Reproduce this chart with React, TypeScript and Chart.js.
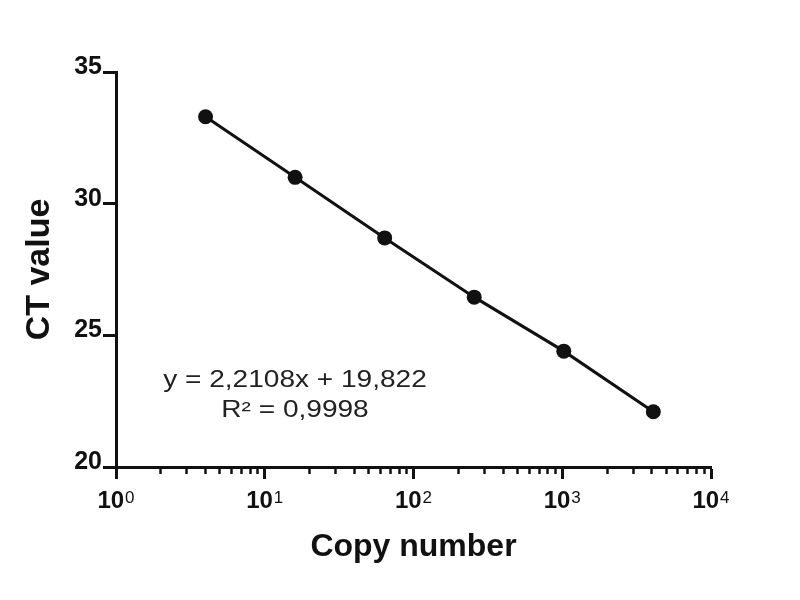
import React, { useEffect, useRef } from 'react';
import { Chart, registerables } from 'chart.js';

Chart.register(...registerables);

// ---- data ----
const copyNumbers = [4, 16, 64, 256, 1024, 4096];
const ctValues = [33.3, 31.0, 28.7, 26.45, 24.4, 22.1];

// ---- axes / labels ----
const yTicks = [20, 25, 30, 35];
const xMajorTicks = [1, 10, 100, 1000, 10000];
const xTickBase = '10';
const xTickExponents = ['0', '1', '2', '3', '4'];
const xMinorTicks = [
  2, 3, 4, 5, 6, 7, 8, 9,
  20, 30, 40, 50, 60, 70, 80, 90,
  200, 300, 400, 500, 600, 700, 800, 900,
  2000, 3000, 4000, 5000, 6000, 7000, 8000, 9000,
];
const xTitle = 'Copy number';
const yTitle = 'CT value';
const equationLines = ['y = 2,2108x + 19,822', 'R² = 0,9998'];

const FONT = "'Liberation Sans', Arial, Helvetica, sans-serif";
const INK = '#111111';

const xLabelPlugin = {
  id: 'xPowLabels',
  afterDraw(chart: any) {
    const scale = chart.scales.x;
    const ctx = chart.ctx;
    ctx.save();
    ctx.fillStyle = INK;
    ctx.textBaseline = 'alphabetic';
    ctx.textAlign = 'left';
    xMajorTicks.forEach((v, i) => {
      const px = scale.getPixelForValue(v);
      ctx.font = `bold 24px ${FONT}`;
      const wb = ctx.measureText(xTickBase).width;
      ctx.font = `17px ${FONT}`;
      const we = ctx.measureText(xTickExponents[i]).width;
      const gap = 1;
      const start = px - (wb + gap + we) / 2;
      ctx.font = `bold 24px ${FONT}`;
      ctx.fillText(xTickBase, start, scale.top + 41);
      ctx.font = `17px ${FONT}`;
      ctx.fillText(xTickExponents[i], start + wb + gap, scale.top + 36);
    });
    ctx.restore();
  },
};

const equationPlugin = {
  id: 'equationText',
  afterDraw(chart: any) {
    const { ctx, chartArea } = chart;
    const cx = chartArea.left + 179;
    ctx.save();
    ctx.font = `23px ${FONT}`;
    ctx.fillStyle = '#222222';
    ctx.textAlign = 'center';
    ctx.textBaseline = 'alphabetic';
    equationLines.forEach((t, i) => {
      ctx.save();
      ctx.translate(cx, chartArea.top + 315 + i * 30);
      ctx.scale(1.22, 1);
      ctx.fillText(t, 0, 0);
      ctx.restore();
    });
    ctx.restore();
  },
};

export default function App() {
  const ref = useRef<HTMLCanvasElement | null>(null);

  useEffect(() => {
    if (!ref.current) return;
    const chart = new Chart(ref.current, {
      type: 'scatter',
      data: {
        datasets: [
          {
            data: copyNumbers.map((x, i) => ({ x, y: ctValues[i] })),
            showLine: true,
            borderColor: INK,
            borderWidth: 3,
            backgroundColor: INK,
            pointBackgroundColor: INK,
            pointBorderColor: INK,
            pointBorderWidth: 0,
            pointRadius: 7.5,
            xAxisID: 'x',
            yAxisID: 'y',
          },
        ],
      },
      options: {
        responsive: false,
        animation: false,
        events: [],
        layout: { padding: { top: 72, right: 89, left: 0, bottom: 0 } },
        plugins: {
          legend: { display: false },
          tooltip: { enabled: false },
        },
        scales: {
          x2: {
            type: 'logarithmic',
            position: 'bottom',
            weight: -1,
            min: 1,
            max: 10000,
            afterBuildTicks: (s: any) => {
              s.ticks = xMinorTicks.map((v) => ({ value: v }));
            },
            ticks: { display: false, autoSkip: false },
            grid: {
              display: true,
              drawOnChartArea: false,
              drawTicks: true,
              tickLength: 7,
              tickWidth: 2.5,
              tickColor: INK,
            },
            border: { display: false },
            afterFit: (s: any) => {
              s.height = 0;
            },
          },
          x: {
            type: 'logarithmic',
            position: 'bottom',
            weight: 0,
            min: 1,
            max: 10000,
            afterBuildTicks: (s: any) => {
              s.ticks = xMajorTicks.map((v) => ({ value: v, major: true }));
            },
            ticks: { display: false, autoSkip: false },
            grid: {
              drawOnChartArea: false,
              drawTicks: true,
              tickLength: 12,
              tickWidth: 3,
              tickColor: INK,
            },
            border: { display: true, color: INK, width: 3 },
            title: {
              display: true,
              text: xTitle,
              color: INK,
              font: { family: FONT, size: 32, weight: 'bold' },
              padding: { top: 0, bottom: 34 },
            },
            afterFit: (s: any) => {
              s.height = 133;
            },
          },
          y: {
            type: 'linear',
            position: 'left',
            min: 20,
            max: 35,
            afterBuildTicks: (s: any) => {
              s.ticks = yTicks.map((v) => ({ value: v }));
            },
            ticks: {
              color: INK,
              font: { family: FONT, size: 25, weight: 'bold' },
              padding: 1,
              labelOffset: -5,
            },
            grid: {
              drawOnChartArea: false,
              drawTicks: true,
              tickLength: 13,
              tickWidth: 3,
              tickColor: INK,
            },
            border: { display: true, color: INK, width: 3 },
            title: {
              display: true,
              text: yTitle,
              color: INK,
              font: { family: FONT, size: 34, weight: 'bold' },
              padding: { top: 19, bottom: 0 },
            },
            afterFit: (s: any) => {
              s.width = 116;
            },
          },
        },
      } as any,
      plugins: [xLabelPlugin, equationPlugin],
    });
    return () => chart.destroy();
  }, []);

  return (
    <div style={{ position: 'absolute', left: 0, top: 0, width: 800, height: 600, background: '#ffffff' }}>
      <canvas ref={ref} width={800} height={600} style={{ display: 'block', width: 800, height: 600 }} />
    </div>
  );
}
